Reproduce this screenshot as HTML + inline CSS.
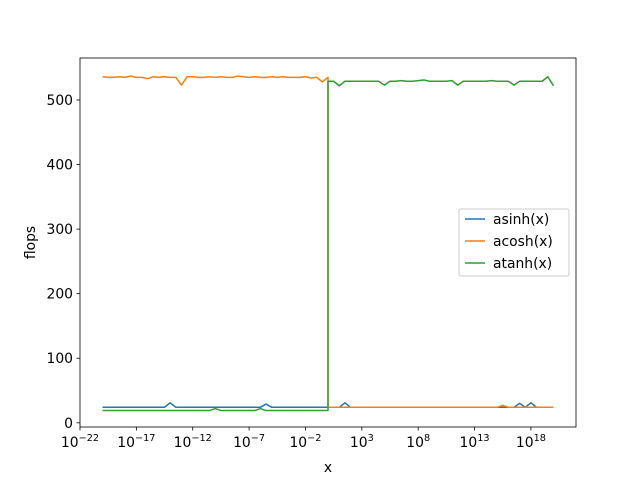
<!DOCTYPE html>
<html><head><meta charset="utf-8"><style>
body{margin:0;background:#fff}
svg{font-family:"DejaVu Sans","Liberation Sans",sans-serif}
</style></head><body>
<svg id="chart" width="640" height="480" viewBox="0 0 640 480" xmlns="http://www.w3.org/2000/svg"></svg>
<script>
// log10(x) positions: left segment -20..0 and right segment 0..20, step 0.5
const xsLeft = [-20,-19.5,-19,-18.5,-18,-17.5,-17,-16.5,-16,-15.5,-15,-14.5,-14,-13.5,-13,-12.5,-12,-11.5,-11,-10.5,-10,-9.5,-9,-8.5,-8,-7.5,-7,-6.5,-6,-5.5,-5,-4.5,-4,-3.5,-3,-2.5,-2,-1.5,-1,-0.5,0];
const xsRight = [0,0.5,1,1.5,2,2.5,3,3.5,4,4.5,5,5.5,6,6.5,7,7.5,8,8.5,9,9.5,10,10.5,11,11.5,12,12.5,13,13.5,14,14.5,15,15.5,16,16.5,17,17.5,18,18.5,19,19.5,20];
const asinhLeft = [24,24,24,24,24,24,24,24,24,24,24,24,31,24,24,24,24,24,24,24,24,24,24,24,24,24,24,24,24,29,24,24,24,24,24,24,24,24,24,24,24];
const asinhRight = [24,24,24,31,24,24,24,24,24,24,24,24,24,24,24,24,24,24,24,24,24,24,24,24,24,24,24,24,24,24,24,24,24,24,30,24,31,24,24,24,24];
const acoshLeft = [536,535,535,536,535,537,535,535,533,536,535,536,535,535,523,536,536,535,535,536,535,536,535,535,537,536,535,536,535,535,536,535,536,535,535,535,536,534,535,528,535];
const acoshRight = [24,24,24,24,24,24,24,24,24,24,24,24,24,24,24,24,24,24,24,24,24,24,24,24,24,24,24,24,24,24,24,27,24,24,24,24,24,24,24,24,24];
const atanhLeft = [19,19,19,19,19,19,19,19,19,19,19,19,19,19,19,19,19,19,19,19,22,19,19,19,19,19,19,19,22,19,19,19,19,19,19,19,19,19,19,19,19];
const atanhRight = [529,529,522,529,529,529,529,529,529,529,523,529,529,530,529,529,530,531,529,529,529,529,530,523,529,529,529,529,529,530,529,529,529,523,529,529,529,529,529,536,522];
const xTicks = [-22,-17,-12,-7,-2,3,8,13,18];
const yTicks = [0,100,200,300,400,500];

const L=80,R=576,T=58,B=427, xmin=-22,xmax=22, ymin=-6.5,ymax=565;
const sx=v=>L+(v-xmin)/(xmax-xmin)*(R-L);
const sy=v=>B-(v-ymin)/(ymax-ymin)*(B-T);
const svg=document.getElementById('chart');
const NS='http://www.w3.org/2000/svg';
function mk(tag,attrs,parent){const e=document.createElementNS(NS,tag);for(const k in attrs)e.setAttribute(k,attrs[k]);(parent||svg).appendChild(e);return e;}

const series=[['asinh',asinhLeft,asinhRight,'#1f77b4'],['acosh',acoshLeft,acoshRight,'#ff7f0e'],['atanh',atanhLeft,atanhRight,'#2ca02c']];
for(const [nm,lv,rv,col] of series){
  const xs=xsLeft.concat(xsRight), ys=lv.concat(rv);
  const pts=xs.map((x,i)=>sx(x).toFixed(2)+','+sy(ys[i]).toFixed(2)).join(' ');
  const p=mk('polyline',{points:pts,fill:'none',stroke:col,'stroke-width':1.5,'stroke-linejoin':'round'});
  
  
}
const frame=mk('rect',{x:L,y:T,width:R-L,height:B-T,fill:'none',stroke:'#000','stroke-width':0.8});


for(const t of xTicks){
  const x=sx(t);
  mk('line',{x1:x,x2:x,y1:B,y2:B+3.5,stroke:'#000','stroke-width':0.8});
  const tx=mk('text',{x:x,y:B+20,'font-size':13.9,'text-anchor':'middle'});
  
  
  tx.textContent='10';
  const sp=mk('tspan',{dy:-6,'font-size':9.7},tx);sp.textContent=String(t).replace('-','\u2212');
}
for(const t of yTicks){
  const y=sy(t);
  mk('line',{x1:L-3.5,x2:L,y1:y,y2:y,stroke:'#000','stroke-width':0.8});
  const tx=mk('text',{x:L-7,y:y+5,'font-size':13.9,'text-anchor':'end'});
  
  
  tx.textContent=t;
}
const xl=mk('text',{x:(L+R)/2,y:472,'font-size':13.9,'text-anchor':'middle'});xl.textContent='x';


const yl=mk('text',{x:35,y:(T+B)/2,'font-size':13.9,'text-anchor':'middle',transform:`rotate(-90 35 ${(T+B)/2})`});yl.textContent='flops';


const lg=mk('g',{});


mk('rect',{x:459,y:209,width:110,height:67,rx:2,fill:'#fff',stroke:'#ccc','stroke-width':1},lg);
series.forEach(([nm,,,col],i)=>{
  const y=219+i*22;
  mk('line',{x1:465,x2:485,y1:y,y2:y,stroke:col,'stroke-width':1.5},lg);
  const t=mk('text',{x:493,y:y+5,'font-size':13.9},lg);t.textContent=nm+'(x)';
  
  
});
</script>
</body></html>
